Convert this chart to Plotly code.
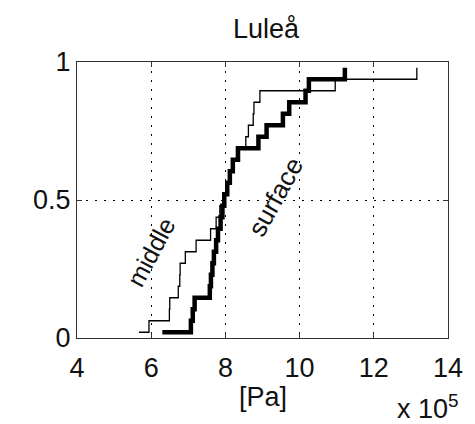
import plotly.graph_objects as go

# Sorted pressure samples (units of 1e5 Pa) for the two measurement depths
middle_pa = [5.67, 5.94, 6.49, 6.50, 6.73, 6.77, 6.78, 6.92, 7.21, 7.60, 7.75, 7.85,
             7.93, 8.02, 8.10, 8.20, 8.30, 8.55, 8.62, 8.75, 8.77, 8.93, 10.96, 13.16]
surface_pa = [6.30, 7.07, 7.12, 7.17, 7.58, 7.61, 7.65, 7.69, 7.75, 7.80, 7.87, 7.92,
              7.97, 8.05, 8.12, 8.20, 8.34, 8.89, 9.11, 9.55, 9.72, 10.16, 10.25, 11.22]

x_ticks = [4, 6, 8, 10, 12, 14]
y_ticks = [0, 0.5, 1]
y_tick_text = ["0", "0.5", "1"]


def plotting_positions(values):
    n = len(values)
    return [(i + 0.5) / n for i in range(n)]


FONT = "Liberation Sans, Arial, sans-serif"
TXT = "#111"
SIZE = 27

fig = go.Figure()
fig.add_trace(go.Scatter(x=middle_pa, y=plotting_positions(middle_pa), mode="lines",
                         line=dict(color="black", width=1.3, shape="hv"),
                         showlegend=False, hoverinfo="skip"))
fig.add_trace(go.Scatter(x=surface_pa, y=plotting_positions(surface_pa), mode="lines",
                         line=dict(color="black", width=4.5, shape="hv"),
                         showlegend=False, hoverinfo="skip"))

axis_common = dict(
    showline=True, linecolor="#333", linewidth=1.2, mirror="ticks",
    ticks="inside", ticklen=5, tickcolor="#333",
    showgrid=True, gridcolor="black", griddash="2px,7px", gridwidth=1.3,
    zeroline=False, tickfont=dict(family=FONT, size=SIZE, color=TXT),
)

fig.update_xaxes(range=[4, 14], tickvals=x_ticks, ticktext=[str(v) for v in x_ticks],
                 ticklabelstandoff=5, **axis_common)
fig.update_yaxes(range=[0, 1], tickvals=y_ticks, ticktext=y_tick_text,
                 ticklabelstandoff=0, **axis_common)

fig.update_layout(
    width=475, height=424,
    margin=dict(l=77, r=20, t=62, b=86),
    plot_bgcolor="white", paper_bgcolor="white",
    title=dict(text="Luleå", x=0.56, xanchor="center", y=0.932, yanchor="middle",
               yref="container", font=dict(family=FONT, size=SIZE, color=TXT)),
    annotations=[
        dict(text="[Pa]", xref="paper", yref="paper", x=0.5, y=-0.215,
             xanchor="center", yanchor="middle", showarrow=False,
             font=dict(family=FONT, size=SIZE, color=TXT)),
        dict(text="x 10<sup>5</sup>", xref="paper", yref="paper", x=1.035, y=-0.25,
             xanchor="right", yanchor="middle", showarrow=False,
             font=dict(family=FONT, size=SIZE, color=TXT)),
        dict(text="middle", x=5.99, y=0.312, xref="x", yref="y", textangle=-62,
             showarrow=False, font=dict(family=FONT, size=25, color=TXT)),
        dict(text="surface", x=9.35, y=0.511, xref="x", yref="y", textangle=-61,
             showarrow=False, font=dict(family=FONT, size=26, color=TXT)),
    ],
)

fig.write_html("out.html")
